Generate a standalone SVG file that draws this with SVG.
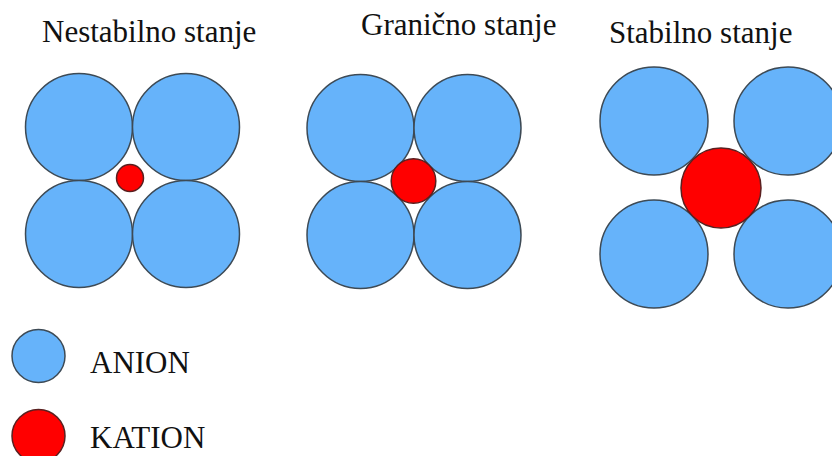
<svg xmlns="http://www.w3.org/2000/svg" width="832" height="456" viewBox="0 0 832 456">
<style>
.an{fill:#66b3fa;stroke:#3d4a55;stroke-width:1.5}
.ka{fill:#ff0000;stroke:#5a2020;stroke-width:1.5}
.t{font-family:'Liberation Serif','Times New Roman','DejaVu Serif',serif;font-size:31px;fill:#111}
</style>
<rect width="832" height="456" fill="#ffffff"/>
<g id="panel-nestabilno">
<text class="t" x="42" y="42" font-family="Liberation Serif, serif">Nestabilno stanje</text>
<circle class="an" cx="79" cy="127" r="53.5"/>
<circle class="an" cx="186" cy="127" r="53.5"/>
<circle class="an" cx="79" cy="234" r="53.5"/>
<circle class="an" cx="186" cy="234" r="53.5"/>
<circle class="ka" cx="130" cy="178" r="13.5"/>
</g>
<g id="panel-granicno">
<text class="t" x="361" y="35" font-family="Liberation Serif, serif">Granično stanje</text>
<circle class="an" cx="360.5" cy="128" r="53.5"/>
<circle class="an" cx="467.5" cy="128" r="53.5"/>
<circle class="an" cx="360.5" cy="235" r="53.5"/>
<circle class="an" cx="467.5" cy="235" r="53.5"/>
<circle class="ka" cx="413.5" cy="181" r="22.3"/>
</g>
<g id="panel-stabilno">
<text class="t" x="609" y="43" font-family="Liberation Serif, serif">Stabilno stanje</text>
<circle class="an" cx="654" cy="121" r="54"/>
<circle class="an" cx="788" cy="121" r="54"/>
<circle class="an" cx="654" cy="254" r="54"/>
<circle class="an" cx="788" cy="254" r="54"/>
<circle class="ka" cx="721" cy="188" r="40"/>
</g>
<g id="legend-anion">
<circle class="an" cx="38.5" cy="356" r="26.5"/>
<text class="t" x="90" y="373" font-family="Liberation Serif, serif">ANION</text>
</g>
<g id="legend-kation">
<circle class="ka" cx="38.5" cy="436" r="26.5"/>
<text class="t" x="90" y="448" font-family="Liberation Serif, serif">KATION</text>
</g>
</svg>
